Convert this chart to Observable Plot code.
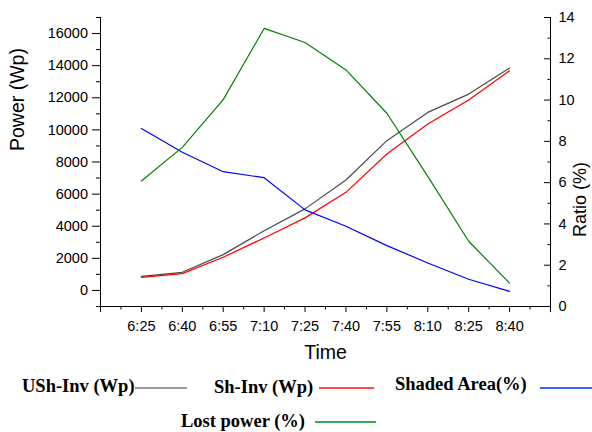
<!DOCTYPE html>
<html><head><meta charset="utf-8">
<script src="https://cdn.jsdelivr.net/npm/d3@7"></script>
<script src="https://cdn.jsdelivr.net/npm/@observablehq/plot@0.6"></script>
<style>
body{margin:0;background:#fff;}
#wrap{position:relative;width:592px;height:432px;overflow:hidden;background:#fff;}
.lg{position:absolute;font-family:"Liberation Serif","Times New Roman",serif;font-weight:bold;font-size:18.5px;line-height:18.5px;white-space:nowrap;color:#000;}
.ln{position:absolute;height:2px;}
</style></head><body><div id="wrap"></div>
<script>
// ---- data ----
const times = ["6:25","6:40","6:55","7:10","7:25","7:40","7:55","8:10","8:25","8:40"];
const ushInv = [880, 1130, 2230, 3720, 5080, 6880, 9330, 11090, 12230, 13850];   // Wp
const shInv = [820, 1050, 2070, 3270, 4520, 6110, 8500, 10370, 11860, 13680];     // Wp
const shadedArea = [8.62, 7.47, 6.53, 6.24, 4.68, 3.89, 2.95, 2.11, 1.32, 0.73];  // %
const lostPower = [6.08, 7.71, 10.02, 13.47, 12.79, 11.46, 9.36, 6.3, 3.16, 1.13]; // %
const powerTicks = [0, 2000, 4000, 6000, 8000, 10000, 12000, 14000, 16000];
const powerMinor = [-1000, 1000, 3000, 5000, 7000, 9000, 11000, 13000, 15000, 17000];
const ratioTicks = [0, 2, 4, 6, 8, 10, 12, 14];
const ratioMinor = [1, 3, 5, 7, 9, 11, 13];
const legendItems = [
  {label: "USh-Inv (Wp)", color: "#9a9a9a"},
  {label: "Sh-Inv (Wp)", color: "#ff4d4d"},
  {label: "Shaded Area(%)", color: "#3366ff"},
  {label: "Lost power (%)", color: "#33aa55"}
];

// ratio (%) axis mapped onto the power axis
const toY = d3.scaleLinear([0, 14], [-1000, 17000]);
const xMajor = d3.range(0, 12);
const xMinor = d3.range(0.5, 11, 1);

const rows = (vals, conv) => vals.map((v, i) => ({x: i + 1, y: conv ? toY(v) : v}));

const W = 592, H = 372;
const chart = Plot.plot({
  width: W, height: H,
  marginLeft: 100, marginRight: 42, marginTop: 17, marginBottom: H - 306,
  x: {type: "linear", domain: [0, 11], axis: null},
  y: {type: "linear", domain: [-1000, 17000], axis: null},
  style: {fontFamily: "'Liberation Sans', Arial, sans-serif", fontSize: "14.5px", color: "black", background: "white", overflow: "visible"},
  marks: [
    Plot.line(rows(ushInv), {x: "x", y: "y", stroke: "#4a4a4a", strokeWidth: 1.2}),
    Plot.line(rows(shInv), {x: "x", y: "y", stroke: "#ff0000", strokeWidth: 1.2}),
    Plot.line(rows(shadedArea, true), {x: "x", y: "y", stroke: "#0000ff", strokeWidth: 1.2}),
    Plot.line(rows(lostPower, true), {x: "x", y: "y", stroke: "#008000", strokeWidth: 1.2}),
    Plot.ruleY([-1000], {stroke: "black", strokeWidth: 1}),
    Plot.ruleX([0, 11], {stroke: "black", strokeWidth: 1}),
    Plot.axisX({ticks: xMajor, tickSize: 6, tickPadding: 8, tickFormat: i => times[i - 1] ?? "", label: null, fontSize: 14.5}),
    Plot.axisX({ticks: xMinor, tickSize: 3.5, tickFormat: () => "", label: null}),
    Plot.axisY({anchor: "left", ticks: powerTicks, tickSize: 8, tickPadding: 4.5, tickFormat: d => String(d), label: null, fontSize: 14.5}),
    Plot.axisY({anchor: "left", ticks: powerMinor, tickSize: 4, tickFormat: () => "", label: null}),
    Plot.axisY({anchor: "right", ticks: ratioTicks.map(toY), tickSize: 7, dx: -7, tickPadding: 8, tickFormat: d => String(Math.round(toY.invert(d))), label: null, fontSize: 14.5}),
    Plot.axisY({anchor: "right", ticks: ratioMinor.map(toY), tickSize: 3.5, dx: -3.5, tickFormat: () => "", label: null}),
    Plot.text(["Power (Wp)"], {text: d => d, frameAnchor: "left", dx: -90, dy: -11, rotate: -90, lineAnchor: "top", fontSize: 19.5}),
    Plot.text(["Ratio (%)"], {text: d => d, frameAnchor: "right", dx: 23, rotate: -90, lineAnchor: "top", fontSize: 18}),
    Plot.text(["Time"], {text: d => d, frameAnchor: "bottom", dy: 39, lineAnchor: "top", fontSize: 19.5})
  ]
});
const wrap = document.getElementById("wrap");
wrap.appendChild(chart);

// legend (HTML, below/around the svg)
const legendPos = [
  {tx: 22, top: 376.5, lx1: 135, lx2: 187, ly: 386.5},
  {tx: 214, top: 377.5, lx1: 319, lx2: 374, ly: 386.5},
  {tx: 395, top: 374.5, lx1: 540, lx2: 592, ly: 387},
  {tx: 181, top: 411.5, lx1: 315, lx2: 376, ly: 421}
];
legendItems.forEach((it, i) => {
  const p = legendPos[i];
  const t = document.createElement("div");
  t.className = "lg"; t.textContent = it.label;
  t.style.left = p.tx + "px"; t.style.top = p.top + "px";
  wrap.appendChild(t);
  const l = document.createElement("div");
  l.className = "ln"; l.style.background = it.color;
  l.style.left = p.lx1 + "px"; l.style.width = (p.lx2 - p.lx1) + "px"; l.style.top = p.ly + "px";
  wrap.appendChild(l);
});
</script></body></html>
